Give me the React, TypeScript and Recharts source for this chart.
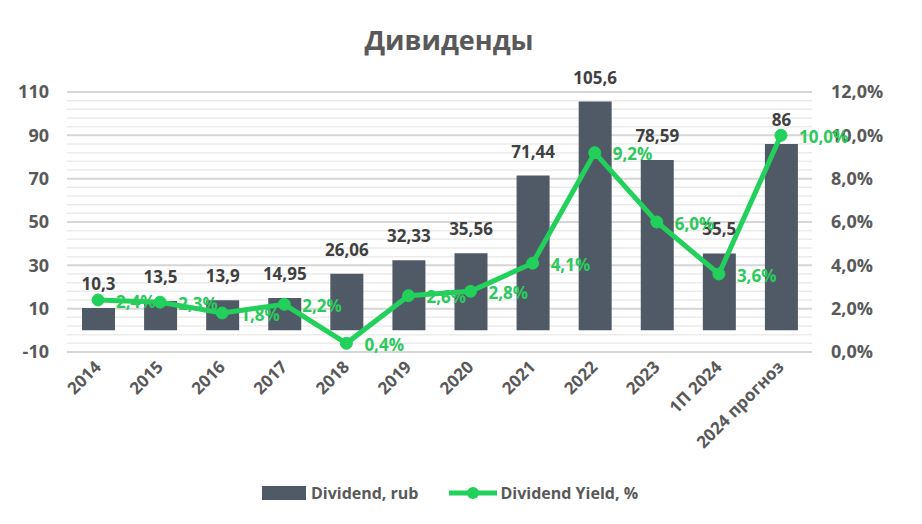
import React from "react";
import {
  ComposedChart,
  Bar,
  Line,
  XAxis,
  YAxis,
  CartesianGrid,
  LabelList,
  Legend,
} from "recharts";

const categories = ["2014", "2015", "2016", "2017", "2018", "2019", "2020", "2021", "2022", "2023", "1П 2024", "2024 прогноз"];
const dividends = [10.3, 13.5, 13.9, 14.95, 26.06, 32.33, 35.56, 71.44, 105.6, 78.59, 35.5, 86];
const yields = [2.4, 2.3, 1.8, 2.2, 0.4, 2.6, 2.8, 4.1, 9.2, 6.0, 3.6, 10.0];
const leftTicks = [-10, 10, 30, 50, 70, 90, 110];
const minorTicks = [-6, -2, 2, 6, 14, 18, 22, 26, 34, 38, 42, 46, 54, 58, 62, 66, 74, 78, 82, 86, 94, 98, 102, 106];
const rightTicks = [0, 2, 4, 6, 8, 10, 12];

const data = categories.map((c, i) => ({ name: c, div: dividends[i], yld: yields[i] }));

const FONT = "'Open Sans', 'DejaVu Sans', sans-serif";
const BAR = "#505A66";
const GREEN = "#22D05C";
const GREEN_TXT = "#2CC95C";
const GRAY = "#595959";

const fmtNum = (v: number) => String(v).replace(".", ",");
const fmtPct = (v: number) => v.toFixed(1).replace(".", ",") + "%";

const applyScale = (scale: any, v: number): number | null => {
  if (!scale) return null;
  try {
    if (typeof scale === "function") return scale(v);
    if (typeof scale.map === "function") return scale.map(v);
    if (typeof scale.scale === "function") return scale.scale(v);
  } catch (e) {
    return null;
  }
  return null;
};

const minorGen = (props: any) => {
  const scale = props && props.yAxis && props.yAxis.scale;
  const out: number[] = [];
  minorTicks.forEach((v) => {
    const p = applyScale(scale, v);
    if (typeof p === "number" && isFinite(p)) out.push(p);
  });
  return out;
};

const XTick = (props: any) => {
  const { x, y, payload } = props;
  return (
    <g transform={`translate(${x + 4},${y + 8})`}>
      <text
        x={0}
        y={0}
        textAnchor="end"
        transform="rotate(-45)"
        fill={GRAY}
        fontSize={17}
        fontWeight={700}
        fontFamily={FONT}
      >
        {payload.value}
      </text>
    </g>
  );
};

const BarLabel = (props: any) => {
  const { x, y, width, value } = props;
  return (
    <text
      x={x + width / 2}
      y={y - 18}
      textAnchor="middle"
      fill="#404040"
      fontSize={17}
      fontWeight={700}
      fontFamily={FONT}
    >
      {fmtNum(value)}
    </text>
  );
};

const LineLabel = (props: any) => {
  const { x, y, value } = props;
  return (
    <text
      x={x + 18}
      y={y + 1}
      dominantBaseline="central"
      textAnchor="start"
      fill={GREEN_TXT}
      fontSize={17}
      fontWeight={700}
      fontFamily={FONT}
    >
      {fmtPct(value)}
    </text>
  );
};

const LegendContent = () => (
  <div
    style={{
      height: 24,
      display: "flex",
      justifyContent: "center",
      alignItems: "center",
      paddingRight: 22,
      fontFamily: FONT,
      fontWeight: 700,
      fontSize: 16,
      color: GRAY,
    }}
  >
    <span style={{ display: "inline-block", width: 44, height: 14, background: BAR, marginRight: 5 }} />
    <span style={{ marginRight: 30 }}>Dividend, rub</span>
    <svg width={48} height={14} style={{ marginRight: 4 }}>
      <line x1={0} y1={7} x2={48} y2={7} stroke={GREEN} strokeWidth={5} />
      <circle cx={24} cy={7} r={6} fill={GREEN} />
    </svg>
    <span>Dividend Yield, %</span>
  </div>
);

export default function App() {
  return (
    <div style={{ position: "absolute", left: 0, top: 0, width: 922, height: 524, background: "#fff" }}>
      <div
        style={{
          position: "absolute",
          top: 22,
          left: 0,
          width: 898,
          textAlign: "center",
          fontFamily: FONT,
          fontWeight: 700,
          fontSize: 27,
          color: GRAY,
          lineHeight: "36px",
        }}
      >
        Дивиденды
      </div>
      <ComposedChart
        width={922}
        height={524}
        data={data}
        margin={{ top: 92, right: 0, left: 0, bottom: 19 }}
        barSize={33}
      >
        <CartesianGrid
          yAxisId="left"
          vertical={false}
          stroke="#EBEBEB"
          strokeWidth={1.5}
          horizontalCoordinatesGenerator={minorGen}
        />
        <CartesianGrid yAxisId="left" vertical={false} stroke="#D6D6D6" strokeWidth={2} />
        <XAxis
          dataKey="name"
          interval={0}
          height={129}
          axisLine={false}
          tickLine={false}
          tick={<XTick />}
        />
        <YAxis
          yAxisId="left"
          orientation="left"
          domain={[-10, 110]}
          ticks={leftTicks}
          width={67}
          axisLine={false}
          tickLine={false}
          tickSize={0}
          tickMargin={18}
          tick={{ fill: GRAY, fontSize: 18, fontWeight: 700, fontFamily: FONT }}
        />
        <YAxis
          yAxisId="right"
          orientation="right"
          domain={[0, 12]}
          ticks={rightTicks}
          width={110}
          axisLine={false}
          tickLine={false}
          tickSize={0}
          tickMargin={19}
          tickFormatter={(v: number) => fmtPct(v)}
          tick={{ fill: GRAY, fontSize: 18, fontWeight: 700, fontFamily: FONT, textAnchor: "start" }}
        />
        <Legend verticalAlign="bottom" align="center" content={<LegendContent />} />
        <Bar yAxisId="left" dataKey="div" fill={BAR} isAnimationActive={false}>
          <LabelList dataKey="div" content={<BarLabel />} />
        </Bar>
        <Line
          yAxisId="right"
          dataKey="yld"
          stroke={GREEN}
          strokeWidth={5}
          dot={{ r: 6, fill: GREEN, stroke: GREEN, strokeWidth: 1 }}
          activeDot={false}
          isAnimationActive={false}
        >
          <LabelList dataKey="yld" content={<LineLabel />} />
        </Line>
      </ComposedChart>
    </div>
  );
}
